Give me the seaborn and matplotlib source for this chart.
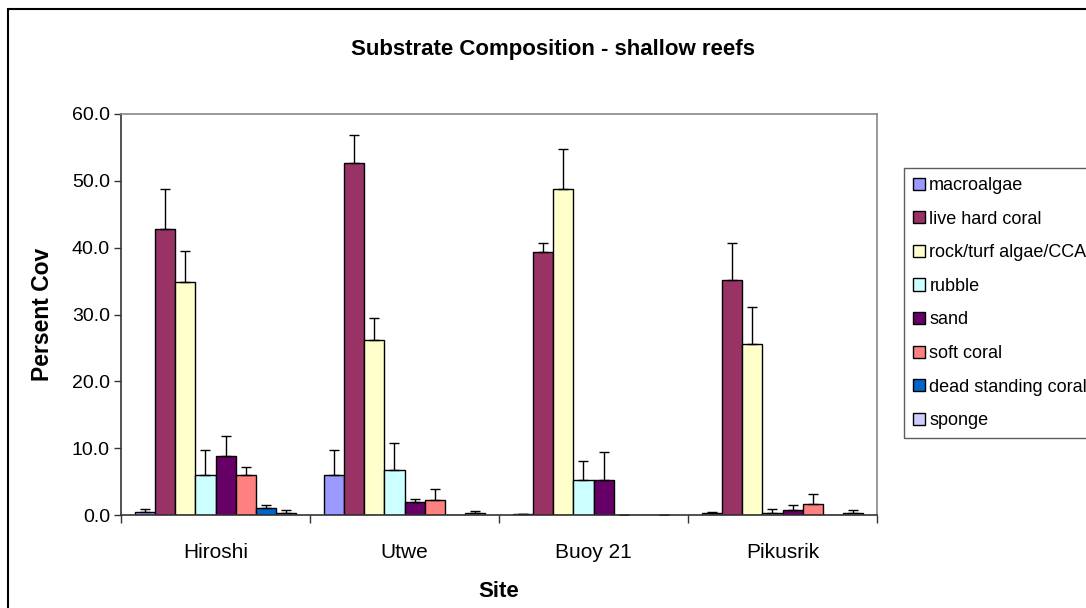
import numpy as np
import pandas as pd
import matplotlib
matplotlib.use("Agg")
import matplotlib.pyplot as plt
import seaborn as sns
from matplotlib.patches import Patch, Rectangle
from matplotlib.ticker import FormatStrFormatter, FixedLocator

# data (percent cover, + upper error)
sites = ['Hiroshi', 'Utwe', 'Buoy 21', 'Pikusrik']
types = ['macroalgae', 'live hard coral', 'rock/turf algae/CCA', 'rubble',
         'sand', 'soft coral', 'dead standing coral', 'sponge']

macroalgae = [0.5, 6.0, 0.1, 0.3]
live_hard_coral = [42.8, 52.6, 39.3, 35.2]
rock_turf = [34.9, 26.2, 48.8, 25.6]
rubble = [6.0, 6.7, 5.2, 0.35]
sand = [8.9, 2.0, 5.2, 0.75]
soft_coral = [6.0, 2.2, 0.0, 1.65]
dead_coral = [1.0, 0.0, 0.0, 0.0]
sponge = [0.3, 0.35, 0.0, 0.25]

macroalgae_err = [0.45, 3.8, 0.0, 0.2]
live_hard_coral_err = [6.0, 4.3, 1.4, 5.5]
rock_turf_err = [4.6, 3.3, 6.0, 5.5]
rubble_err = [3.8, 4.1, 2.9, 0.6]
sand_err = [2.9, 0.45, 4.2, 0.7]
soft_coral_err = [1.2, 1.65, 0.0, 1.45]
dead_coral_err = [0.45, np.nan, np.nan, np.nan]
sponge_err = [0.45, 0.25, 0.0, 0.5]

colors = ['#9999FF', '#993366', '#FFFFCC', '#CCFFFF',
          '#660066', '#FF8080', '#0066CC', '#CCCCFF']

values = [macroalgae, live_hard_coral, rock_turf, rubble, sand, soft_coral, dead_coral, sponge]
errors = [macroalgae_err, live_hard_coral_err, rock_turf_err, rubble_err, sand_err,
          soft_coral_err, dead_coral_err, sponge_err]

rows = []
for t, vals in zip(types, values):
    for s, v in zip(sites, vals):
        rows.append({'Site': s, 'Type': t, 'Cover': v})
df = pd.DataFrame(rows)

sns.set_theme(style="white")
plt.rcParams['font.family'] = ['Liberation Sans', 'DejaVu Sans']
plt.rcParams['text.color'] = 'black'
plt.rcParams['axes.labelcolor'] = 'black'
plt.rcParams['xtick.labelcolor'] = 'black'
plt.rcParams['ytick.labelcolor'] = 'black'

fig = plt.figure(figsize=(10.86, 6.08), dpi=100)
ax = fig.add_axes([121 / 1086, 1 - 515 / 608, (877 - 121) / 1086, (515 - 114) / 608])

sns.barplot(data=df, x='Site', y='Cover', hue='Type', hue_order=types, order=sites,
            palette=colors, saturation=1, width=0.85, edgecolor='black', linewidth=1,
            errorbar=None, legend=False, ax=ax)

# upper error bars on each bar
for cont, errs in zip(ax.containers, errors):
    for bar, e in zip(cont, errs):
        if np.isnan(e):
            continue
        x = bar.get_x() + bar.get_width() / 2
        h = bar.get_height()
        ax.errorbar(x, h, yerr=[[0], [e]], fmt='none', ecolor='black',
                    elinewidth=1, capsize=3.6, capthick=1)

ax.set_ylim(0, 60)
ax.set_xlim(-0.5, 3.5)
ax.set_yticks(np.arange(0, 61, 10))
ax.yaxis.set_major_formatter(FormatStrFormatter('%.1f'))
ax.tick_params(axis='y', length=5, width=1, direction='out', left=True, pad=3,
               labelsize=14, color='#333333')
ax.tick_params(axis='x', which='major', length=0, pad=20, labelsize=15)
ax.xaxis.set_minor_locator(FixedLocator([-0.5, 0.5, 1.5, 2.5, 3.5]))
ax.tick_params(axis='x', which='minor', length=6, width=1, bottom=True, color='#333333')

for side in ['left', 'bottom']:
    ax.spines[side].set_color('#333333')
    ax.spines[side].set_linewidth(1.2)
for side in ['top', 'right']:
    ax.spines[side].set_color('#888888')
    ax.spines[side].set_linewidth(1.2)

ax.set_ylabel('Persent Cov', fontsize=16.5, fontweight='bold', labelpad=13)
ax.set_xlabel('Site', fontsize=16, fontweight='bold', labelpad=14)

fig.text(553 / 1086, 1 - 49 / 608, 'Substrate Composition - shallow reefs',
         ha='center', va='center', fontsize=16, fontweight='bold')

handles = [Patch(facecolor=c, edgecolor='black', linewidth=1) for c in colors]
leg = fig.legend(handles, types, loc='upper left',
                 bbox_to_anchor=(904 / 1086, 1 - 168 / 608),
                 bbox_transform=fig.transFigure, borderaxespad=0,
                 fontsize=13, frameon=True, fancybox=False,
                 handlelength=0.65, handleheight=0.65, handletextpad=0.25,
                 labelspacing=0.92, borderpad=0.5)
leg.get_frame().set_edgecolor('#333333')
leg.get_frame().set_linewidth(1)

# outer chart border (runs past the right and bottom of the image)
fig.add_artist(Rectangle((8 / 1086, -0.1), 2, 1 - 9 / 608 + 0.1,
                         transform=fig.transFigure, fill=False,
                         edgecolor='black', linewidth=1.5))

fig.savefig('out.png', dpi=100)
